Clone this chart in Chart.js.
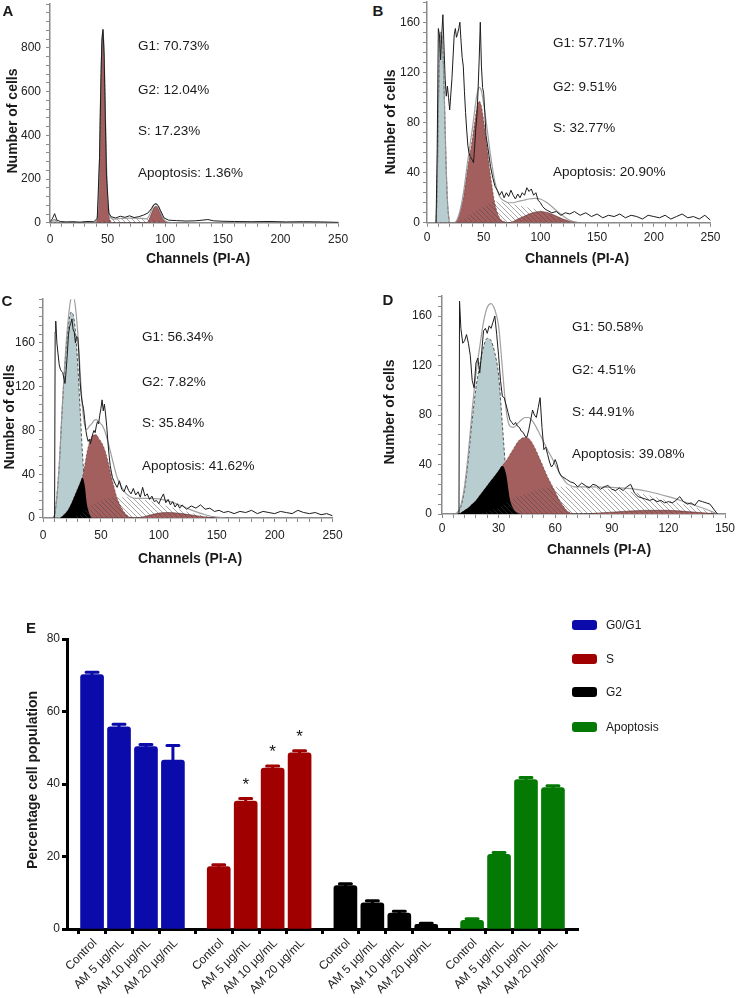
<!DOCTYPE html>
<html>
<head>
<meta charset="utf-8">
<script src="https://cdn.jsdelivr.net/npm/chart.js@4.4.1/dist/chart.umd.min.js"></script>
<style>
  body { margin: 0; background: #fff; font-family: "Liberation Sans", Arial, sans-serif; color: #1a1a1a; }
  #fig { position: relative; width: 738px; height: 998px; overflow: hidden; }
  canvas { position: absolute; }
  .t { position: absolute; white-space: nowrap; line-height: 1; }
  .letter { font-weight: bold; font-size: 15px; transform: translate(-50%, -50%); }
  .stat { font-size: 13.5px; transform: translateY(-50%); }
  .xt { font-weight: bold; font-size: 14px; transform: translate(-50%, -50%); }
  .yt { font-weight: bold; font-size: 14px; transform: translate(-50%, -50%) rotate(-90deg); }
  .sw { position: absolute; width: 25px; height: 10px; border-radius: 3px; transform: translateY(-50%); }
  .lg { font-size: 12px; transform: translateY(-50%); }
</style>
</head>
<body>
<div id="fig">
  <canvas id="cA"></canvas>
  <canvas id="cB"></canvas>
  <canvas id="cC"></canvas>
  <canvas id="cD"></canvas>
  <canvas id="cE"></canvas>
</div>
<script>
/* ---------- histogram data: [channel, count] ---------- */
const histA = [[0,5],[2,18],[4,42],[6,12],[9,6],[14,4],[20,5],[26,3],[32,6],[38,5],[41,20],[43,300],[44,600],[45,830],[46,885],[47,760],[48,480],[49,220],[51,45],[53,28],[57,22],[61,30],[65,25],[69,32],[73,24],[77,28],[81,35],[85,45],[88,65],[90,82],[92,88],[94,78],[96,55],[99,22],[103,12],[110,10],[118,8],[126,9],[132,12],[137,15],[142,9],[150,7],[160,6],[175,5],[190,6],[205,4],[220,5],[235,4],[250,2]];

const histB = [[8,0],[9,60],[10,155],[11,150],[12,130],[13,150],[14,166],[15,140],[16,115],[17,101],[18,109],[19,100],[20,90],[22,115],[24,150],[25,155],[26,148],[27,151],[28,155],[29,160],[30,145],[31,132],[32,125],[33,105],[34,88],[35,74],[36,62],[37,56],[38,53],[40,50],[41,48],[42,60],[43,75],[44,85],[45,105],[46,130],[47,160],[48,125],[49,108],[50,103],[51,88],[52,70],[54,58],[56,45],[58,36],[60,29],[62,26],[64,22],[66,25],[68,20],[70,24],[72,21],[74,26],[76,22],[78,19],[80,23],[82,20],[84,24],[86,22],[88,28],[90,25],[92,27],[94,22],[96,24],[98,18],[100,16],[102,13],[104,11],[106,10],[110,8],[114,9],[118,6],[122,8],[126,7],[130,9],[135,6],[140,8],[145,5],[150,7],[155,4],[160,6],[165,5],[170,7],[175,4],[180,6],[185,5],[190,3],[195,6],[200,5],[205,4],[210,6],[215,3],[220,5],[225,7],[230,4],[235,5],[240,3],[245,6],[250,2]];

const histC = [[9,0],[10,0],[10.5,170],[11,180],[12,160],[13,150],[14,140],[15,136],[16,134],[17,133],[18,128],[19,123],[20,135],[21,150],[22,168],[23,175],[24,178],[25,182],[26,172],[27,170],[28,160],[29,166],[30,165],[31,150],[32,125],[33,112],[34,105],[35,100],[36,90],[37,80],[38,74],[39,70],[40,72],[41,68],[42,73],[43,77],[44,80],[45,78],[46,84],[47,88],[48,86],[49,94],[50,100],[51,108],[52,98],[53,104],[54,95],[55,84],[56,70],[57,58],[58,48],[59,42],[60,37],[62,32],[64,28],[66,34],[68,26],[70,24],[72,30],[74,25],[76,22],[78,27],[80,21],[82,24],[84,19],[86,28],[88,20],[90,22],[92,17],[94,20],[96,15],[98,16],[100,13],[102,18],[104,22],[106,14],[108,17],[110,12],[112,15],[114,10],[116,13],[118,9],[120,12],[124,8],[128,11],[132,9],[136,12],[140,8],[144,9],[148,6],[152,7],[156,5],[160,6],[165,4],[170,6],[175,5],[180,7],[185,4],[190,6],[195,5],[200,4],[205,6],[210,5],[215,4],[220,7],[225,5],[230,4],[235,5],[240,3],[245,4],[250,2]];

const histD = [[8,0],[9,0],[9.3,172],[10,150],[11,138],[12,140],[13,145],[14,138],[15,128],[16,108],[17,102],[18,122],[19,126],[20,114],[21,130],[22,148],[23,150],[24,146],[25,152],[26,150],[27,155],[28,160],[29,145],[30,128],[31,108],[32,95],[33,94],[34,88],[35,82],[36,76],[37,74],[38,72],[39,74],[40,71],[41,70],[42,67],[43,66],[44,63],[45,62],[46,68],[47,76],[48,84],[49,80],[50,78],[51,86],[52,94],[53,70],[54,52],[55,54],[56,48],[57,42],[58,38],[59,40],[60,44],[61,40],[62,34],[63,31],[64,30],[66,28],[68,26],[70,25],[72,22],[74,25],[76,23],[78,21],[80,24],[82,23],[84,20],[86,22],[88,23],[90,20],[92,19],[94,21],[96,19],[98,22],[100,24],[102,17],[104,14],[106,13],[108,12],[110,11],[112,12],[114,10],[116,11],[118,9],[120,10],[122,9],[124,11],[126,14],[128,10],[130,8],[132,9],[134,7],[136,11],[138,10],[140,9],[142,8],[144,4],[146,0]];

/* ---------- fitted model components on a shared channel grid ---------- */
const modChA = [0,2,4,6,8, 38,40,42,43,44, 45,46,47,48,49, 50,52,55,60,70, 80,84,86,88,90, 92,94,96,98,100, 103,110,120];
const apopA  = [0,10,15,5,0, 0,0,0,0,0, 0,0,0,0,0, 0,0,0,0,0, 0,0,0,0,0, 0,0,0,0,0, 0,0,0];
const g1A    = [0,0,0,0,0, 0,5,80,290,600, 820,870,760,500,260, 110,15,0,0,0, 0,0,0,0,0, 0,0,0,0,0, 0,0,0];
const g2A    = [0,0,0,0,0, 0,0,0,0,0, 0,0,0,0,0, 0,0,0,0,0, 0,0,15,42,68, 76,64,40,17,5, 0,0,0];
const sA     = [0,0,0,0,0, 0,3,5,6,7, 8,9,10,11,12, 13,15,17,19,21, 20,18,17,15,13, 11,9,7,5,4, 2,0,0];

const modChB = [8,9,10,11,12, 13,14,15,16,17, 18,19,20,24,28, 32,36,40,44,46, 48,52,56,60,64, 68,72,76,80,85, 90,95,100,105,110, 115,120,125,130,135];
const apopB  = [0,30,90,135,152, 150,138,110,75,42, 18,6,0,0,0, 0,0,0,0,0, 0,0,0,0,0, 0,0,0,0,0, 0,0,0,0,0, 0,0,0,0,0];
const g1B    = [0,0,0,0,0, 0,0,0,0,0, 0,0,0,0,5, 20,45,67,92,97, 93,68,38,15,4, 1,0,0,0,0, 0,0,0,0,0, 0,0,0,0,0];
const g2B    = [0,0,0,0,0, 0,0,0,0,0, 0,0,0,0,0, 0,0,0,0,0, 0,0,0,0,0, 0,0,1,3,5, 7,8.5,9,8.5,7, 5,3,1.5,0.5,0];
const sB     = [0,0,0,0,0, 0,0,0,0,0, 0,0,0,0,1, 3,5,8,10,11, 12,14,16,17,17, 16.5,16,15,14,13, 12,11,10,8,6, 4,2.5,1,0.3,0];

const modChC = [8,10,12,14,16, 18,20,22,24,26, 28,30,32,34,36, 38,40,42,44,46, 48,50,52,54,56, 58,60,64,68,72, 80,90,100,110,120, 130,140,150,160];
const apopC  = [0,3,20,48,88, 125,155,176,188,186, 170,140,100,60,30, 12,4,0,0,0, 0,0,0,0,0, 0,0,0,0,0, 0,0,0,0,0, 0,0,0,0];
const g1C    = [0,0,0,0,1, 3,5,8,12,17, 22,27,32,37,48, 60,69,74,76,76, 73,70,66,60,52, 43,34,18,9,3, 0,0,0,0,0, 0,0,0,0];
const g2C    = [0,0,0,0,0, 0,0,0,0,0, 0,0,0,0,0, 0,0,0,0,0, 0,0,0,0,0, 0,0,0,0,0, 0,2,4.5,5,4, 2.5,1,0.3,0];
const sC     = [0,0,0,0,0, 0,0,0,0,0, 1,2,3,5,7, 9,11,12,13,14, 15,16,17,17.5,18, 18.5,19,19,19,19, 18,16,13,10,7, 4,2,0.5,0];

const modChD = [6,8,10,12,14, 16,18,20,22,24, 26,28,30,32,34, 36,38,40,42,44, 46,48,50,52,54, 56,58,60,62,64, 66,68,70,75,80, 90,100,110,120,130, 140,146];
const apopD  = [0,1,6,20,45, 76,102,120,135,142, 140,130,112,72,32, 12,4,1,0,0, 0,0,0,0,0, 0,0,0,0,0, 0,0,0,0,0, 0,0,0,0,0, 0,0];
const g1D    = [0,0,1,3,5, 8,11,15,19,23, 27,31,35,39,43, 48,53,58,61,62, 61,57,51,44,37, 30,24,18,12,7, 3,1,0,0,0, 0,0,0,0,0, 0,0];
const g2D    = [0,0,0,0,0, 0,0,0,0,0, 0,0,0,0,0, 0,0,0,0,0, 0,0,0,0,0, 0,0,0,0,0, 0,0,0,0,0.5, 1.5,2.5,3,3,2, 0.8,0];
const sD     = [0,0,0,0,0, 0,0,0,1,2, 3,4,5,7,9, 11,13,14,15,16, 17,18,19,20,21, 21.5,22,22,22,22, 22,22,22,22,21.5, 20,18,15,11,7, 3,0];

const statsA = ["G1: 70.73%", "G2: 12.04%", "S: 17.23%", "Apoptosis: 1.36%"];
const statsB = ["G1: 57.71%", "G2: 9.51%", "S: 32.77%", "Apoptosis: 20.90%"];
const statsC = ["G1: 56.34%", "G2: 7.82%", "S: 35.84%", "Apoptosis: 41.62%"];
const statsD = ["G1: 50.58%", "G2: 4.51%", "S: 44.91%", "Apoptosis: 39.08%"];

/* ---------- panel E: bar chart data ---------- */
const phaseNames = ["G0/G1", "S", "G2", "Apoptosis"];
const doseLabels = ["Control", "AM 5 µg/mL", "AM 10 µg/mL", "AM 20 µg/mL"];
const g0g1Mean = [70.2, 55.8, 50.3, 46.6];
const g0g1Err  = [0.6, 0.7, 0.6, 4.0];
const sMean    = [17.2, 35.3, 44.4, 48.6];
const sErr     = [0.5, 0.7, 0.6, 0.6];
const g2Mean   = [12.0, 7.2, 4.4, 1.3];
const g2Err    = [0.5, 0.6, 0.5, 0.3];
const apopMean = [2.4, 20.6, 41.2, 39.0];
const apopErr  = [0.4, 0.5, 0.6, 0.5];
const sStars   = ["", "*", "*", "*"];

const FONT = '"Liberation Sans", Arial, sans-serif';
const AXIS = "#8a8a8a";
const RED_FILL = "#a35e5e";
const BLUE_FILL = "#b8cdd0";
const PHASE_COLORS = ["#0b0bab", "#a00000", "#000000", "#047a04"];

Chart.defaults.font.family = FONT;
Chart.defaults.animation = false;

const fig = document.getElementById("fig");
function addText(cls, text, x, y) {
  const d = document.createElement("div");
  d.className = "t " + cls;
  d.textContent = text;
  d.style.left = x + "px";
  d.style.top = y + "px";
  fig.appendChild(d);
}

function hatchPattern() {
  const c = document.createElement("canvas");
  c.width = 5; c.height = 5;
  const g = c.getContext("2d");
  g.strokeStyle = "rgba(70,70,70,0.6)";
  g.lineWidth = 0.8;
  g.beginPath();
  g.moveTo(0, 0); g.lineTo(5, 5);
  g.moveTo(-1, 4); g.lineTo(1, 6);
  g.moveTo(4, -1); g.lineTo(6, 1);
  g.stroke();
  return g.createPattern(c, "repeat");
}
const HATCH = hatchPattern();

const pts = (xs, ys) => xs.map((x, i) => ({ x, y: ys[i] }));

function histChart(p) {
  const [L, T, R, B] = p.area;
  const cv = document.getElementById(p.id);
  const left = L - 40, top = T - 10;
  const w = Math.ceil(R - left + 16);
  const h = Math.ceil(B - top + 40);
  cv.width = w; cv.height = h;
  cv.style.left = left + "px";
  cv.style.top = top + "px";
  const padRight = w - (R - left);
  const xH = h - (B - top);

  const overlap = p.apop.map((v, i) => Math.min(v, p.g1[i]));
  const fit = p.ch.map((_, i) => p.apop[i] + p.g1[i] + p.g2[i] + p.s[i]);
  const model = { pointRadius: 0, fill: "origin", cubicInterpolationMode: "monotone", borderWidth: 0 };

  const tickFont = { size: 12, family: FONT };
  return new Chart(cv, {
    type: "line",
    data: {
      datasets: [
        { data: p.hist.map(([x, y]) => ({ x, y })), borderColor: "#1c1c1c", borderWidth: 1, pointRadius: 0, tension: 0, fill: false, order: 0 },
        { data: pts(p.ch, fit), borderColor: "rgba(150,150,150,0.9)", borderWidth: 1.2, pointRadius: 0, fill: false, cubicInterpolationMode: "monotone", order: 1 },
        { ...model, data: pts(p.ch, p.s), backgroundColor: HATCH, order: 2 },
        { ...model, data: pts(p.ch, overlap), backgroundColor: "#000", order: 3 },
        { ...model, data: pts(p.ch, p.g2), backgroundColor: RED_FILL, borderColor: "rgba(70,30,30,0.6)", borderWidth: 0.8, order: 4 },
        { ...model, data: pts(p.ch, p.g1), backgroundColor: RED_FILL, borderColor: "rgba(70,30,30,0.6)", borderWidth: 0.8, borderDash: [2, 2], order: 5 },
        { ...model, data: pts(p.ch, p.apop), backgroundColor: BLUE_FILL, borderColor: "#555", borderWidth: 1, borderDash: [3, 2], order: 6 },
      ],
    },
    options: {
      responsive: false,
      events: [],
      layout: { padding: { top: 10, right: padRight, left: 0, bottom: 0 } },
      plugins: { legend: { display: false }, tooltip: { enabled: false } },
      scales: {
        x: {
          type: "linear", min: 0, max: p.xMax,
          afterFit: (s) => { s.height = xH; },
          border: { color: AXIS, width: 1.5 },
          grid: { drawOnChartArea: false, tickLength: 4, color: AXIS },
          ticks: {
            stepSize: p.xMinor, autoSkip: false, maxRotation: 0, minRotation: 0,
            padding: p.xPad, color: "#222", font: tickFont,
            callback: (v) => (Math.round(v) % p.xMajor === 0 ? String(Math.round(v)) : ""),
          },
        },
        y: {
          min: 0, max: p.yMax,
          afterFit: (s) => { s.width = 40; },
          border: { color: AXIS, width: 1.5 },
          grid: { drawOnChartArea: false, tickLength: 4, color: AXIS },
          ticks: {
            stepSize: p.yMinor, autoSkip: false, padding: p.yPad, color: "#222", font: tickFont,
            callback: (v) => (Math.round(v) % p.yMajor === 0 && v < p.yMax ? String(Math.round(v)) : ""),
          },
        },
      },
    },
  });
}

const panels = [
  { id: "cA", letter: "A", hist: histA, ch: modChA, apop: apopA, g1: g1A, g2: g2A, s: sA, stats: statsA,
    xMax: 250, xMinor: 10, xMajor: 50, yMax: 1000, yMinor: 40, yMajor: 200,
    area: [50.4, 1.5, 338.5, 222.3], xPad: 6, yPad: 5,
    letterAt: [8, 10], statX: 138, statY: [46, 90, 131, 173], yTitle: [12, 121], xTitle: [198, 258] },
  { id: "cB", letter: "B", hist: histB, ch: modChB, apop: apopB, g1: g1B, g2: g2B, s: sB, stats: statsB,
    xMax: 250, xMinor: 10, xMajor: 50, yMax: 176, yMinor: 8, yMajor: 40,
    area: [427, 2.2, 710.5, 223], xPad: 4, yPad: 3,
    letterAt: [378, 10], statX: 553, statY: [43, 87, 128, 172], yTitle: [390, 122], xTitle: [577, 258] },
  { id: "cC", letter: "C", hist: histC, ch: modChC, apop: apopC, g1: g1C, g2: g2C, s: sC, stats: statsC,
    xMax: 250, xMinor: 10, xMajor: 50, yMax: 200, yMinor: 8, yMajor: 40,
    area: [43.4, 298.3, 333, 518.3], xPad: 6, yPad: 4,
    letterAt: [7, 300], statX: 142, statY: [337, 382, 423, 466], yTitle: [9, 417], xTitle: [190, 558] },
  { id: "cD", letter: "D", hist: histD, ch: modChD, apop: apopD, g1: g1D, g2: g2D, s: sD, stats: statsD,
    xMax: 150, xMinor: 6, xMajor: 30, yMax: 176, yMinor: 8, yMajor: 40,
    area: [442, 293, 725, 514], xPad: 3, yPad: 6,
    letterAt: [388, 299], statX: 572, statY: [327, 370, 412, 454], yTitle: [389, 412], xTitle: [599, 549] },
];

panels.forEach((p) => {
  histChart(p);
  addText("letter", p.letter, p.letterAt[0], p.letterAt[1]);
  p.stats.forEach((s, i) => addText("stat", s, p.statX, p.statY[i]));
  addText("yt", "Number of cells", p.yTitle[0], p.yTitle[1]);
  addText("xt", "Channels (PI-A)", p.xTitle[0], p.xTitle[1]);
});

/* ---------- panel E ---------- */
const GROUP_PITCH = 4.7;
const barX = (g, i) => g * GROUP_PITCH + i;
const means = [g0g1Mean, sMean, g2Mean, apopMean];
const errs = [g0g1Err, sErr, g2Err, apopErr];
const tickPos = [];
const tickText = [];
means.forEach((_, g) => doseLabels.forEach((lab, i) => { tickPos.push(barX(g, i)); tickText.push(lab); }));

const errorBars = {
  id: "errorBars",
  afterDatasetsDraw(chart) {
    const { ctx } = chart;
    const y = chart.scales.y;
    chart.data.datasets.forEach((ds, di) => {
      chart.getDatasetMeta(di).data.forEach((bar, i) => {
        const yTop = y.getPixelForValue(ds.data[i].y + ds.errors[i]);
        ctx.save();
        ctx.strokeStyle = ds.backgroundColor;
        ctx.lineWidth = 3;
        ctx.lineCap = "round";
        ctx.beginPath();
        ctx.moveTo(bar.x, bar.y + 2);
        ctx.lineTo(bar.x, yTop);
        ctx.moveTo(bar.x - 6, yTop);
        ctx.lineTo(bar.x + 6, yTop);
        ctx.stroke();
        if (ds.stars && ds.stars[i]) {
          ctx.fillStyle = "#111";
          ctx.font = "17px " + FONT;
          ctx.textAlign = "center";
          ctx.fillText(ds.stars[i], bar.x, yTop - 9);
        }
        ctx.restore();
      });
    });
  },
};

const cE = document.getElementById("cE");
cE.width = 600; cE.height = 369;
cE.style.left = "0px"; cE.style.top = "629px";

new Chart(cE, {
  type: "bar",
  data: {
    datasets: means.map((m, g) => ({
      label: phaseNames[g],
      data: m.map((v, i) => ({ x: barX(g, i), y: v })),
      errors: errs[g],
      stars: g === 1 ? sStars : null,
      backgroundColor: PHASE_COLORS[g],
      barThickness: 23,
      grouped: false,
      borderRadius: { topLeft: 3, topRight: 3 },
      borderSkipped: "bottom",
    })),
  },
  options: {
    responsive: false,
    events: [],
    layout: { padding: { top: 10, right: 22, left: 0, bottom: 0 } },
    plugins: { legend: { display: false }, tooltip: { enabled: false } },
    scales: {
      x: {
        type: "linear",
        min: -0.93, max: barX(3, 3) + 0.93,
        offset: false,
        afterFit: (s) => { s.height = 69; },
        afterBuildTicks: (s) => { s.ticks = tickPos.map((v) => ({ value: v })); },
        border: { color: "#000", width: 3 },
        grid: { drawOnChartArea: false, tickLength: 5, tickWidth: 3, color: "#000" },
        ticks: {
          autoSkip: false, minRotation: 45, maxRotation: 45, padding: 2, labelOffset: 3,
          color: "#222", font: { size: 12, family: FONT },
          callback: (v, i) => tickText[i],
        },
      },
      y: {
        min: 0, max: 80,
        afterFit: (s) => { s.width = 67; },
        border: { color: "#000", width: 3 },
        grid: { drawOnChartArea: false, tickLength: 5, tickWidth: 3, color: "#000" },
        ticks: { stepSize: 20, padding: 2, color: "#222", font: { size: 12, family: FONT } },
      },
    },
  },
  plugins: [errorBars],
});

addText("letter", "E", 31, 627);
addText("yt", "Percentage cell population", 32, 780);
const legendY = [625, 659, 692, 727];
phaseNames.forEach((name, g) => {
  const sw = document.createElement("div");
  sw.className = "sw";
  sw.style.left = "572px";
  sw.style.top = legendY[g] + "px";
  sw.style.background = PHASE_COLORS[g];
  fig.appendChild(sw);
  addText("lg", name, 606, legendY[g]);
});
</script>
</body>
</html>
